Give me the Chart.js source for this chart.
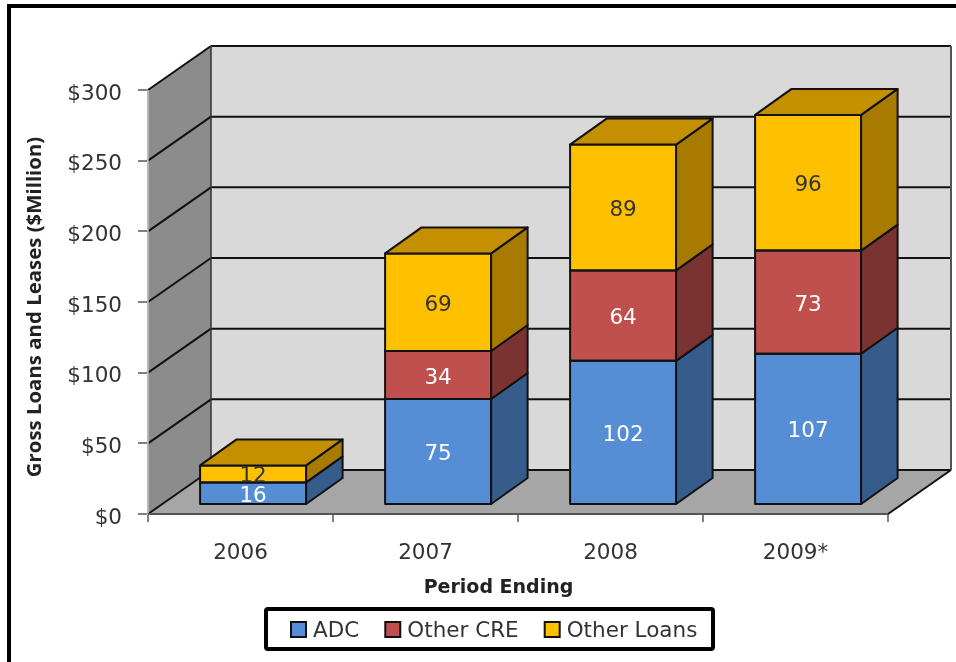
<!DOCTYPE html>
<html>
<head>
<meta charset="utf-8">
<title>Gross Loans and Leases</title>
<script src="https://cdn.jsdelivr.net/npm/chart.js@4"></script>
<style>
  html, body { margin: 0; padding: 0; background: #fff; }
  #wrap { position: relative; width: 956px; height: 662px; overflow: hidden; }
</style>
</head>
<body>
<div id="wrap"><canvas id="chart" width="956" height="662"></canvas></div>
<script>
const categories = ['2006', '2007', '2008', '2009*'];
const adcValues = [16, 75, 102, 107];
const otherCreValues = [0, 34, 64, 73];
const otherLoansValues = [12, 69, 89, 96];

const fontFamily = "'DejaVu Sans', sans-serif";
const textColor = '#333333';

// depth of the fake 3D box, in pixels
const wallDx = 63, wallDy = 44;
const barDx = 36.5, barDy = 26;
const barShiftX = 12.6, barShiftY = 9;

const faces = {
  ADC: { front: '#558ed5', side: '#355c8a', label: '#ffffff' },
  'Other CRE': { front: '#c0504d', side: '#7a3331', label: '#ffffff' },
  'Other Loans': { front: '#ffc000', side: '#a87b00', top: '#c49000', label: '#333333' }
};

const poly = (ctx, pts, fill, stroke, lw) => {
  ctx.beginPath();
  pts.forEach((p, i) => i ? ctx.lineTo(p[0], p[1]) : ctx.moveTo(p[0], p[1]));
  ctx.closePath();
  if (fill) { ctx.fillStyle = fill; ctx.fill(); }
  if (stroke) { ctx.strokeStyle = stroke; ctx.lineWidth = lw || 2; ctx.lineJoin = 'round'; ctx.stroke(); }
};

const line = (ctx, x1, y1, x2, y2, color, lw) => {
  ctx.beginPath();
  ctx.moveTo(x1, y1);
  ctx.lineTo(x2, y2);
  ctx.strokeStyle = color;
  ctx.lineWidth = lw;
  ctx.stroke();
};

const box3d = {
  id: 'box3d',
  beforeDraw(chart) {
    const { ctx, width, height } = chart;
    ctx.save();
    ctx.fillStyle = '#ffffff';
    ctx.fillRect(0, 0, width, height);
    // page frame, top and left only
    ctx.fillStyle = '#000000';
    ctx.fillRect(7, 4, width - 7, 4);
    ctx.fillRect(7, 4, 4, height - 4);
    ctx.restore();
  },
  beforeDatasetsDraw(chart) {
    const { ctx } = chart;
    const y = chart.scales.y, x = chart.scales.x;
    const l = x.left, r = x.right, b = y.getPixelForValue(0), t = y.getPixelForValue(300);
    ctx.save();
    poly(ctx, [[l + wallDx, t - wallDy], [r + wallDx, t - wallDy], [r + wallDx, b - wallDy], [l + wallDx, b - wallDy]], '#d9d9d9');
    poly(ctx, [[l, t], [l + wallDx, t - wallDy], [l + wallDx, b - wallDy], [l, b]], '#8c8c8c');
    poly(ctx, [[l, b], [l + wallDx, b - wallDy], [r + wallDx, b - wallDy], [r, b]], '#a6a6a6');
    y.ticks.forEach(tk => {
      const py = y.getPixelForValue(tk.value);
      line(ctx, l, py, l + wallDx, py - wallDy, '#111111', 2);
      line(ctx, l + wallDx, py - wallDy, r + wallDx, py - wallDy, '#111111', 2);
    });
    line(ctx, l + wallDx, t - wallDy, l + wallDx, b - wallDy, '#333333', 1.5);
    line(ctx, r + wallDx, t - wallDy, r + wallDx, b - wallDy, '#555555', 2);
    line(ctx, r, b, r + wallDx, b - wallDy, '#111111', 2);
    line(ctx, l, t, l, b, '#bdbdbd', 1.5);
    line(ctx, l, b, r, b, '#555555', 2);
    ctx.restore();
    // the bars stand a little way back on the floor
    ctx.save();
    ctx.translate(barShiftX, -barShiftY);
  },
  afterDatasetsDraw(chart) {
    const { ctx } = chart;
    const metas = chart.data.datasets.map((d, i) => chart.getDatasetMeta(i));
    categories.forEach((c, i) => {
      metas.forEach((meta, k) => {
        const ds = chart.data.datasets[k];
        if (!ds.data[i]) return;
        const bar = meta.data[i];
        const f = faces[ds.label];
        const xr = bar.x + bar.width / 2, xl = bar.x - bar.width / 2;
        poly(ctx, [[xl, bar.y], [xr, bar.y], [xr, bar.base], [xl, bar.base]], null, '#111111', 2);
        poly(ctx, [[xr, bar.y], [xr, bar.base], [xr + barDx, bar.base - barDy], [xr + barDx, bar.y - barDy]], f.side, '#111111', 2);
        if (f.top) {
          poly(ctx, [[xl, bar.y], [xr, bar.y], [xr + barDx, bar.y - barDy], [xl + barDx, bar.y - barDy]], f.top, '#111111', 2);
        }
      });
    });
    // value labels on the front faces
    ctx.textAlign = 'center';
    ctx.textBaseline = 'middle';
    ctx.font = '21.5px ' + fontFamily;
    metas.forEach((meta, k) => {
      const ds = chart.data.datasets[k];
      ctx.fillStyle = faces[ds.label].label;
      meta.data.forEach((bar, i) => {
        if (ds.data[i]) ctx.fillText(String(ds.data[i]), bar.x, (bar.y + bar.base) / 2 + 3);
      });
    });
    ctx.restore();
  },
  afterDraw(chart) {
    const { ctx } = chart;
    ctx.save();
    // axis titles
    ctx.fillStyle = '#222222';
    ctx.textAlign = 'center';
    ctx.textBaseline = 'middle';
    ctx.font = 'bold 19px ' + fontFamily;
    ctx.fillText('Period Ending', 498.5, 588);
    ctx.translate(35, 307);
    ctx.rotate(-Math.PI / 2);
    ctx.font = "bold 20.4px 'Open Sans', sans-serif";
    ctx.fillText('Gross Loans and Leases ($Million)', 0, 0);
    ctx.restore();

    // legend box
    ctx.save();
    ctx.beginPath();
    ctx.roundRect(266, 609, 447, 40, 2);
    ctx.strokeStyle = '#000000';
    ctx.lineWidth = 4;
    ctx.stroke();
    ctx.font = '21.5px ' + fontFamily;
    ctx.textBaseline = 'middle';
    ctx.textAlign = 'left';
    let lx = 291;
    chart.data.datasets.forEach(ds => {
      ctx.fillStyle = faces[ds.label].front;
      ctx.strokeStyle = '#111111';
      ctx.lineWidth = 2;
      ctx.fillRect(lx, 622, 15, 15);
      ctx.strokeRect(lx, 622, 15, 15);
      ctx.fillStyle = textColor;
      ctx.fillText(ds.label, lx + 22, 631);
      lx += 22 + ctx.measureText(ds.label).width + 26;
    });
    ctx.restore();
  }
};

const makeSet = (label, data) => ({
  label,
  data,
  backgroundColor: faces[label].front,
  borderWidth: 0,
  clip: false,
  categoryPercentage: 1,
  barPercentage: 0.573
});

new Chart(document.getElementById('chart').getContext('2d'), {
  type: 'bar',
  data: {
    labels: categories,
    datasets: [
      makeSet('ADC', adcValues),
      makeSet('Other CRE', otherCreValues),
      makeSet('Other Loans', otherLoansValues)
    ]
  },
  options: {
    responsive: false,
    animation: false,
    layout: { padding: { top: 90, right: 68, left: 0, bottom: 0 } },
    plugins: { legend: { display: false }, tooltip: { enabled: false } },
    scales: {
      x: {
        stacked: true,
        afterFit(s) { s.height = 148; },
        grid: { drawOnChartArea: false, tickLength: 8, color: '#808080', lineWidth: 2 },
        border: { color: '#808080', width: 2 },
        ticks: { color: textColor, font: { family: fontFamily, size: 21.5 }, padding: 19, maxRotation: 0 }
      },
      y: {
        stacked: true,
        min: 0,
        max: 300,
        afterFit(s) { s.width = 148; },
        grid: { drawOnChartArea: false, tickLength: 10, color: '#808080', lineWidth: 2 },
        border: { color: '#bdbdbd', width: 2 },
        ticks: { stepSize: 50, color: textColor, font: { family: fontFamily, size: 21.5 }, padding: 16, labelOffset: 4, callback: v => '$' + v }
      }
    }
  },
  plugins: [box3d]
});
</script>
</body>
</html>
